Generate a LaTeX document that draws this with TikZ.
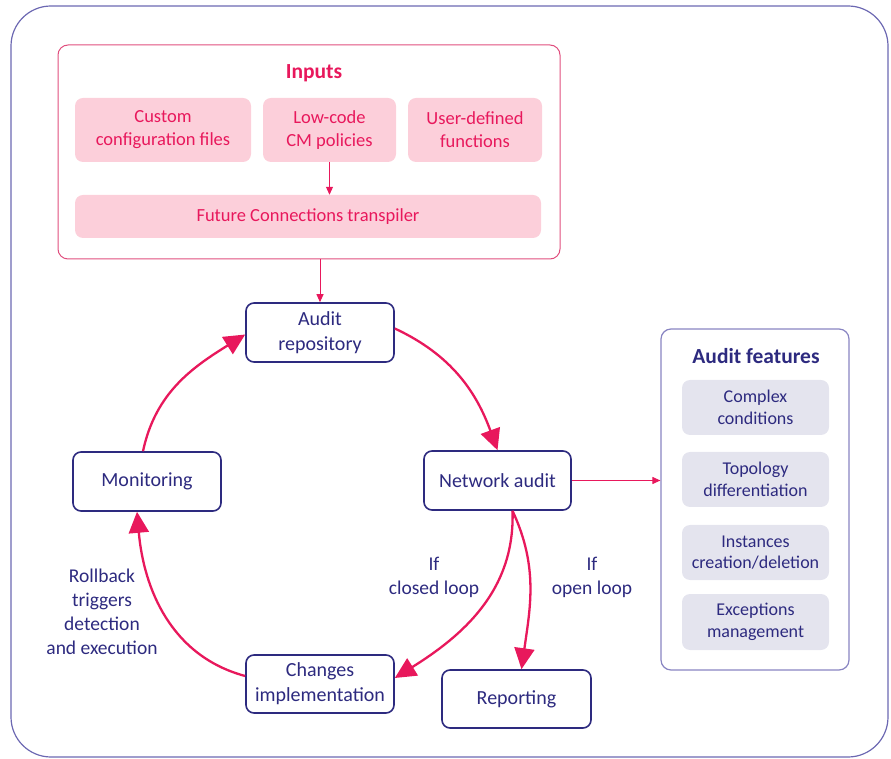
\documentclass[tikz,border=0pt]{standalone}
\usepackage{fontspec}
\setmainfont{Carlito}
\usetikzlibrary{arrows.meta}
\definecolor{pk}{HTML}{E8185C}
\definecolor{pkfill}{HTML}{FCCFDA}
\definecolor{pkline}{HTML}{E04E7E}
\definecolor{navy}{HTML}{2D2A7F}
\definecolor{frameline}{HTML}{6C68B2}
\definecolor{featline}{HTML}{8884C2}
\definecolor{featfill}{HTML}{E4E4EE}
\begin{document}
\begin{tikzpicture}[x=1pt,y=1pt,
 txt/.style={font=\fontsize{19.5}{24}\selectfont, align=center},
 inbox/.style={font=\fontsize{18.5}{23}\selectfont, align=center, fill=pkfill, text=pk, rounded corners=8, inner sep=0, minimum height=64},
 navybox/.style={font=\fontsize{20}{25}\selectfont, align=center, draw=navy, line width=1.6, fill=white, text=navy, rounded corners=8, inner sep=0, minimum width=148, minimum height=59},
 featbox/.style={font=\fontsize{18}{21.5}\selectfont, align=center, fill=featfill, text=navy, rounded corners=8, inner sep=0, minimum width=147, minimum height=55},
 lbl/.style={txt, text=navy},
 bigarrow/.style={draw=pk, line width=2.3, -{Triangle[length=21,width=20]}},
 thinarrow/.style={draw=pk, line width=1, -{Triangle[length=8,width=7]}},
]
\useasboundingbox (0,0) rectangle (891,758);
\draw[frameline, line width=1.2, rounded corners=40] (11,1) rectangle (888,752);

% Inputs
\node[draw=pkline, line width=1, rounded corners=10, minimum width=502, minimum height=214, inner sep=0] (inp) at (309,606) {};
\node[font=\bfseries\fontsize{21.5}{24}\selectfont, text=pk] (inpt) at (314,685) {Inputs};
\node[inbox, minimum width=176] (cf) at (163,628) {Custom\\configuration files};
\node[inbox, minimum width=133] (lc) at (329.5,628) {Low-code\\CM policies};
\node[inbox, minimum width=134] (ud) at (475,628) {User-defined\\functions};
\node[inbox, minimum width=466, minimum height=43] (tr) at (308,541.5) {Future Connections transpiler};
\draw[thinarrow] (lc.south) -- (lc.south |- tr.north);

% cycle
\node[navybox] (ar) at (320,425.5) {Audit\\repository};
\node[navybox, minimum width=147] (na) at (497.5,277.5) {Network audit};
\node[navybox] (mo) at (147,276.5) {Monitoring};
\node[navybox, minimum height=58] (ci) at (320,74) {Changes\\implementation};
\node[navybox, minimum width=149, minimum height=58] (rp) at (516.5,59) {Reporting};

\draw[thinarrow] (ar.north |- inp.south) -- (ar.north);

% features
\node[draw=featline, line width=1.2, rounded corners=10, minimum width=188, minimum height=341, inner sep=0] (feat) at (755,258.5) {};
\node[font=\bfseries\fontsize{21.5}{24}\selectfont, text=navy] (featt) at (756,402) {Audit features};
\node[featbox] (f1) at (755.5,350.5) {Complex\\conditions};
\node[featbox] (f2) at (755.5,278.5) {Topology\\differentiation};
\node[featbox] (f3) at (755.5,205.5) {Instances\\creation/deletion};
\node[featbox, minimum height=56] (f4) at (755.5,136) {Exceptions\\management};
\draw[thinarrow] (na.east) -- (na.east -| feat.west);

\coordinate (nas) at ([xshift=15]na.south);
\draw[bigarrow] ([yshift=4]ar.east) to[out=-25, in=110] (na.north);
\draw[bigarrow] (nas) to[out=-88, in=32] ([yshift=6]ci.east);
\draw[bigarrow] (nas) to[out=-65, in=82] ([xshift=5]rp.north);
\draw[bigarrow] ([yshift=8]ci.west) to[out=165, in=-85] ([xshift=-10]mo.south);
\draw[bigarrow] ([xshift=-4]mo.north) to[out=78, in=-148] ([yshift=-2]ar.west);

\node[lbl] (l1) at (434,181) {If\\closed loop};
\node[lbl] (l2) at (592,181) {If\\open loop};
\node[lbl] (l3) at (102,146) {Rollback\\triggers\\detection\\and execution};
\end{tikzpicture}
\end{document}
